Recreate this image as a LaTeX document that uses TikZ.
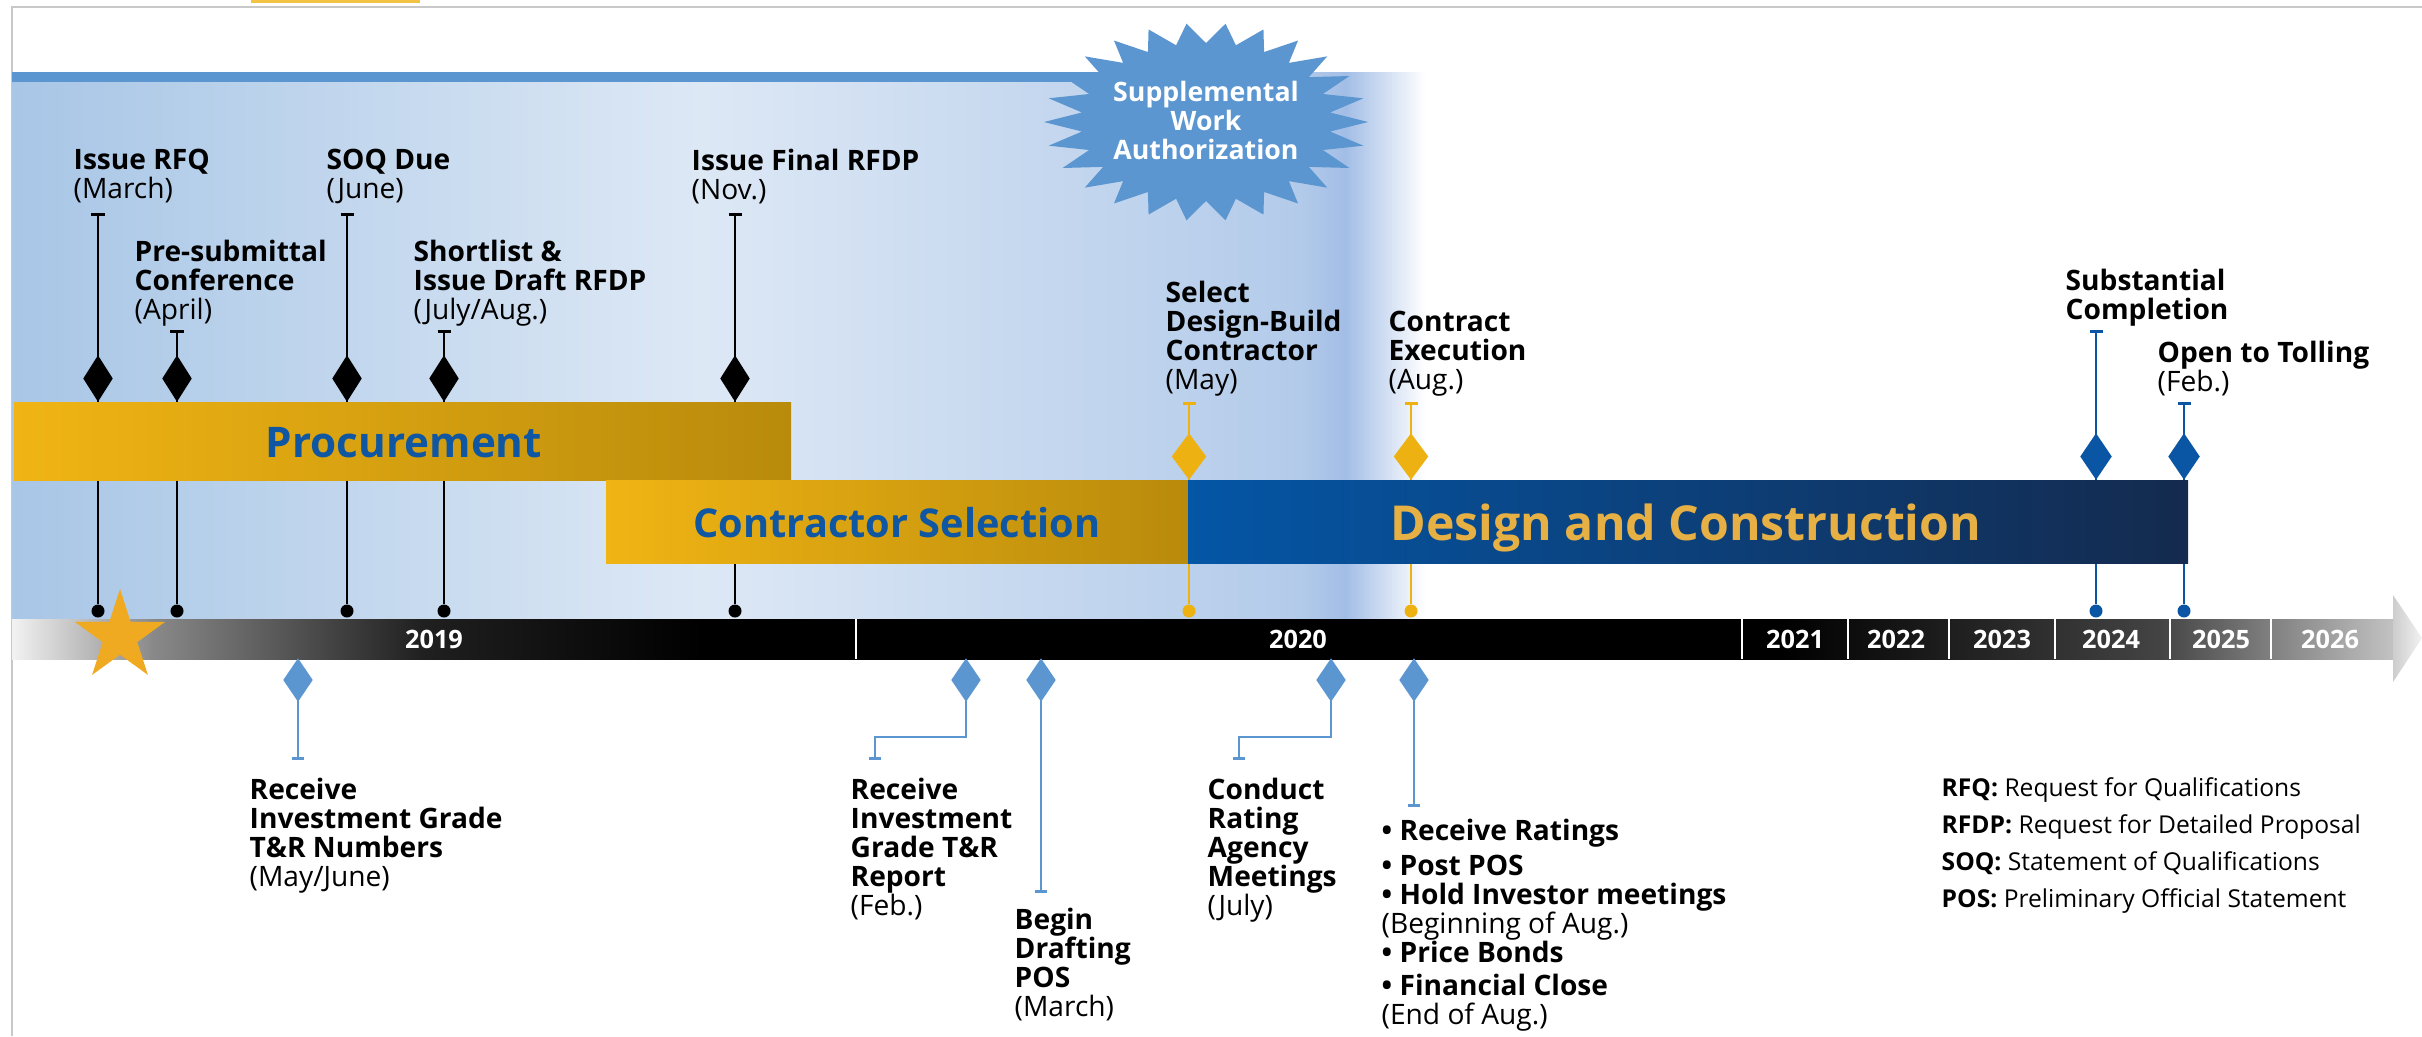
\documentclass[tikz,border=0pt]{standalone}
\usepackage{fontspec}
\setmainfont{Open Sans}
\usetikzlibrary{arrows.meta,shapes.geometric}
\definecolor{swablue}{HTML}{5B96D0}
\definecolor{procgold}{HTML}{F0B414}
\definecolor{procdark}{HTML}{B98B0C}
\definecolor{dcblue}{HTML}{0456A6}
\definecolor{dcnavy}{HTML}{142A4E}
\definecolor{dctext}{HTML}{E6B044}
\definecolor{labblue}{HTML}{0F56A3}
\definecolor{markgold}{HTML}{EDB111}
\definecolor{markblue}{HTML}{0A56A4}
\definecolor{stargold}{HTML}{EFAA22}
\definecolor{bgleft}{HTML}{A8C6E6}
\definecolor{bgpale}{HTML}{DDE8F5}
\definecolor{bgmid}{HTML}{B3CBEA}
\definecolor{bgright}{HTML}{A2BDE6}
\definecolor{framegray}{HTML}{C8C8C8}
\definecolor{tlpale}{HTML}{F2F2F2}
\definecolor{tlmid}{HTML}{8A8A8A}
\definecolor{tldark}{HTML}{202020}
\definecolor{tlgray}{HTML}{444444}
\definecolor{tllight}{HTML}{C4C4C4}

\begin{document}
\begin{tikzpicture}[x=0.01cm, y=-0.01cm,
  evlabel/.style={anchor=north west, inner sep=0pt, align=left, font=\fontsize{8}{8.25}\selectfont},
  barlab/.style={anchor=base, inner sep=0pt, font=\bfseries\fontsize{12}{14}\selectfont},
  yearlab/.style={anchor=base, inner sep=0pt, text=white, font=\bfseries\fontsize{7.2}{8}\selectfont},
  dmd/.style={diamond, inner sep=0pt, minimum width=0.30cm, minimum height=0.47cm},
  stemdot/.style={circle, inner sep=0pt, minimum size=0.13cm},
  upstem/.style={line width=0.7pt, {Bar[width=0.13cm, line width=0.9pt]}-},
  lowstem/.style={swablue, line width=0.6pt, -{Bar[width=0.12cm, line width=0.9pt]}}
]
  \useasboundingbox (0,0) rectangle (2422,1036);

  % Frame
  \fill[procgold!80!white] (251,0) rectangle (420,3);
  \draw[framegray, line width=0.6pt] (12,1036) -- (12,7) -- (2422,7);

  % Procurement period background
  \shade[left color=bgleft, right color=bgpale] (12,72) rectangle (702,619);
  \shade[left color=bgpale, right color=bgmid] (700,72) rectangle (1302,619);
  \shade[left color=bgmid, right color=bgright] (1300,72) rectangle (1347,619);
  \shade[left color=bgright, right color=white] (1345,72) rectangle (1425,619);
  \fill[swablue] (12,72) rectangle (1110,82);

  % Supplemental work starburst
  \fill[swablue] (1368,122) \foreach \i in {1,...,51} {
    -- ({1206+(162-37*mod(\i,2))*cos(\i*6.9231)}, {122+(99-20*mod(\i,2))*sin(\i*6.9231)})
  } -- cycle;
  \node[font=\bfseries\fontsize{7.6}{8.25}\selectfont, text=white, align=center,
    anchor=north, inner sep=0pt] (swa) at (1206,80) {Supplemental\\Work\\Authorization};

  % Milestones above the bars
  \foreach \n/\x/\t/\c/\y/\w in {
    rfq/98/213/black/378.5/0.30cm,
    presub/177/330/black/378.5/0.30cm,
    soq/347/213/black/378.5/0.30cm,
    short/444/330/black/378.5/0.30cm,
    final/735/213/black/378.5/0.30cm,
    select/1189/402/markgold/456.5/0.35cm,
    execute/1411/402/markgold/456.5/0.35cm,
    complete/2096/330/markblue/456.5/0.32cm,
    open/2184/402/markblue/456.5/0.32cm
  } {
    \coordinate (t\n) at (\x,\t);
    \node[stemdot, fill=\c] (o\n) at (\x,611) {};
    \draw[upstem, draw=\c] (t\n) -- (o\n);
    \node[dmd, fill=\c, minimum width=\w] (d\n) at (\x,\y) {};
  }

  % Phase bars
  \shade[left color=procgold, right color=procdark] (14,402) rectangle (791,480);
  \shade[left color=procgold, right color=procdark] (606,480) rectangle (1188,563);
  \shade[left color=dcblue, right color=dcnavy] (1188,480) rectangle (2188,563);
  \node[barlab, text=labblue] (procurement) at (404,457) {Procurement};
  \node[barlab, text=labblue, font=\bfseries\fontsize{11.3}{14}\selectfont] (selection) at (897,537) {Contractor Selection};
  \node[barlab, text=dctext, font=\bfseries\fontsize{13.7}{16}\selectfont] (construction) at (1686,540) {Design and Construction};

  % Timeline
  \begin{scope}
    \clip (12,619) rectangle (2395,659);
    \shade[left color=tlpale, right color=tlmid] (12,610) rectangle (152,668);
    \shade[left color=tlmid, right color=tldark] (150,610) rectangle (422,668);
    \shade[left color=tldark, right color=black] (420,610) rectangle (702,668);
    \fill[black] (700,610) rectangle (1782,668);
    \shade[left color=black, right color=tlgray] (1780,610) rectangle (2162,668);
    \shade[left color=tlgray, right color=tllight] (2160,610) rectangle (2397,668);
  \end{scope}
  \shade[left color=tllight!85!white, right color=tlpale] (2393,595) -- (2422,638) -- (2393,682) -- cycle;
  \foreach \x in {856,1742,1848,1949,2055,2170,2271}
    \draw[white, line width=0.6pt] (\x,619) -- (\x,659);
  \foreach \yr/\x in {2019/434, 2020/1298, 2021/1795, 2022/1896, 2023/2002, 2024/2111, 2025/2221, 2026/2330}
    \node[yearlab] (y\yr) at (\x,648) {\yr};
  \node[star, star points=5, star point ratio=2.618, fill=stargold, inner sep=0pt,
    minimum size=0.95cm] (kickoff) at (120,636.5) {};

  % Financing milestones below the timeline
  \foreach \n/\x/\e in {numbers/298/760, drafting/1041/893, bonds/1414/807} {
    \node[dmd, fill=swablue, minimum height=0.44cm] (d\n) at (\x,680) {};
    \coordinate (b\n) at (\x,\e);
    \draw[lowstem] (d\n.center) -- (b\n);
  }
  \foreach \n/\x/\ex in {report/966/875, meetings/1331/1239} {
    \node[dmd, fill=swablue, minimum height=0.44cm] (d\n) at (\x,680) {};
    \coordinate (b\n) at (\ex,760);
    \draw[lowstem] (d\n.center) -- ++(0,57) -| (b\n);
  }

  % Labels above
  \node[evlabel] (lrfq) at (73,148) {\textbf{Issue RFQ}\\(March)};
  \node[evlabel] (lpresub) at (134,239) {\textbf{Pre-submittal}\\\textbf{Conference}\\(April)};
  \node[evlabel] (lsoq) at (326,148) {\textbf{SOQ Due}\\(June)};
  \node[evlabel] (lshort) at (413,239) {\textbf{Shortlist \&}\\\textbf{Issue Draft RFDP}\\(July/Aug.)};
  \node[evlabel] (lfinal) at (691,148) {\textbf{Issue Final RFDP}\\(Nov.)};
  \node[evlabel] (lselect) at (1165,280) {\textbf{Select}\\\textbf{Design-Build}\\\textbf{Contractor}\\(May)};
  \node[evlabel] (lexecute) at (1388,310) {\textbf{Contract}\\\textbf{Execution}\\(Aug.)};
  \node[evlabel] (lcomplete) at (2065,268) {\textbf{Substantial}\\\textbf{Completion}};
  \node[evlabel] (lopen) at (2157,340) {\textbf{Open to Tolling}\\(Feb.)};

  % Labels below
  \node[evlabel] (lnumbers) at (249,777) {\textbf{Receive}\\\textbf{Investment Grade}\\\textbf{T\&R Numbers}\\(May/June)};
  \node[evlabel] (lreport) at (850,777) {\textbf{Receive}\\\textbf{Investment}\\\textbf{Grade T\&R}\\\textbf{Report}\\(Feb.)};
  \node[evlabel] (ldrafting) at (1014,907) {\textbf{Begin}\\\textbf{Drafting}\\\textbf{POS}\\(March)};
  \node[evlabel] (lmeetings) at (1207,777) {\textbf{Conduct}\\\textbf{Rating}\\\textbf{Agency}\\\textbf{Meetings}\\(July)};
  \node[evlabel] (lbonds) at (1381,818) {\textbf{• Receive Ratings}\\[1.7pt]\textbf{• Post POS}\\\textbf{• Hold Investor meetings}\\(Beginning of Aug.)\\\textbf{• Price Bonds}\\[1.1pt]\textbf{• Financial Close}\\(End of Aug.)};

  % Glossary
  \node[evlabel, font=\fontsize{7}{10.5}\selectfont] (glossary) at (1941,777)
    {\textbf{RFQ:} Request for Qualifications\\\textbf{RFDP:} Request for Detailed Proposal\\\textbf{SOQ:} Statement of Qualifications\\\textbf{POS:} Preliminary Official Statement};
\end{tikzpicture}
\end{document}
